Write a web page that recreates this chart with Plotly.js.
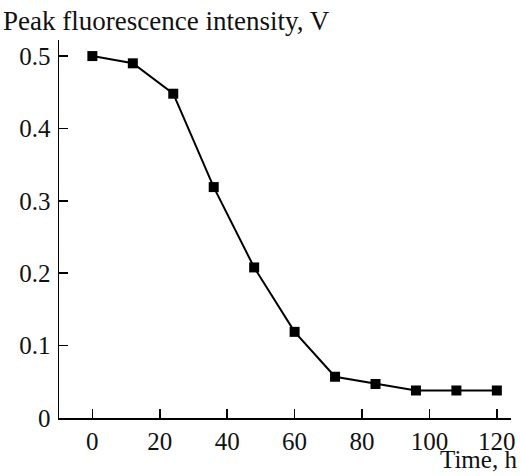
<!DOCTYPE html>
<html>
<head>
<meta charset="utf-8">
<script src="https://cdn.plot.ly/plotly-3.0.1.min.js"></script>
<style>html,body{margin:0;padding:0;background:#fff;}#chart{width:520px;height:476px;}</style>
</head>
<body>
<div id="chart"></div>
<script>
const timeH = [0, 12, 24, 36, 48, 60, 72, 84, 96, 108, 120];
const intensityV = [0.5, 0.49, 0.448, 0.319, 0.208, 0.119, 0.057, 0.047, 0.038, 0.038, 0.038];
const xTicks = [0, 20, 40, 60, 80, 100, 120];
const yTicks = [0, 0.1, 0.2, 0.3, 0.4, 0.5];
const yTickText = ['0', '0.1', '0.2', '0.3', '0.4', '0.5'];
const yTitle = 'Peak fluorescence intensity, V';
const xTitle = 'Time, h';

const fam = 'Liberation Serif, Times New Roman, serif';
const tickFont = {family: fam, size: 25, color: '#111'};
const titleFont = {family: fam, size: 27, color: '#111'};
const xTitleFont = {family: fam, size: 25, color: '#111'};

Plotly.newPlot('chart', [{
  x: timeH, y: intensityV, type: 'scatter', mode: 'lines+markers',
  line: {color: '#000', width: 2},
  marker: {symbol: 'square', size: 10, color: '#000'},
  cliponaxis: false
}], {
  width: 520, height: 476,
  margin: {l: 59, r: 9, t: 40, b: 58},
  paper_bgcolor: '#fff', plot_bgcolor: '#fff',
  showlegend: false,
  font: tickFont,
  xaxis: {
    range: [-9.9, 124.2], tickvals: xTicks, ticks: 'inside', ticklen: 9, tickwidth: 1.5,
    tickcolor: '#000', showline: true, linecolor: '#000', linewidth: 1.5,
    showgrid: false, zeroline: false, tickfont: tickFont
  },
  yaxis: {
    range: [0, 0.5222], tickvals: yTicks, ticktext: yTickText, ticks: 'inside', ticklen: 9, tickwidth: 1.5,
    tickcolor: '#000', showline: true, linecolor: '#000', linewidth: 1.5,
    showgrid: false, zeroline: false, tickfont: tickFont, ticklabelstandoff: 2
  },
  annotations: [
    {text: yTitle, xref: 'paper', yref: 'paper', x: -0.128, y: 1.0, xanchor: 'left', yanchor: 'bottom',
     yshift: 2, showarrow: false, font: titleFont},
    {text: xTitle, xref: 'paper', yref: 'paper', x: 1.017, y: 0, xanchor: 'right', yanchor: 'bottom',
     yshift: -57, showarrow: false, font: xTitleFont}
  ]
}, {staticPlot: true});
</script>
</body>
</html>
